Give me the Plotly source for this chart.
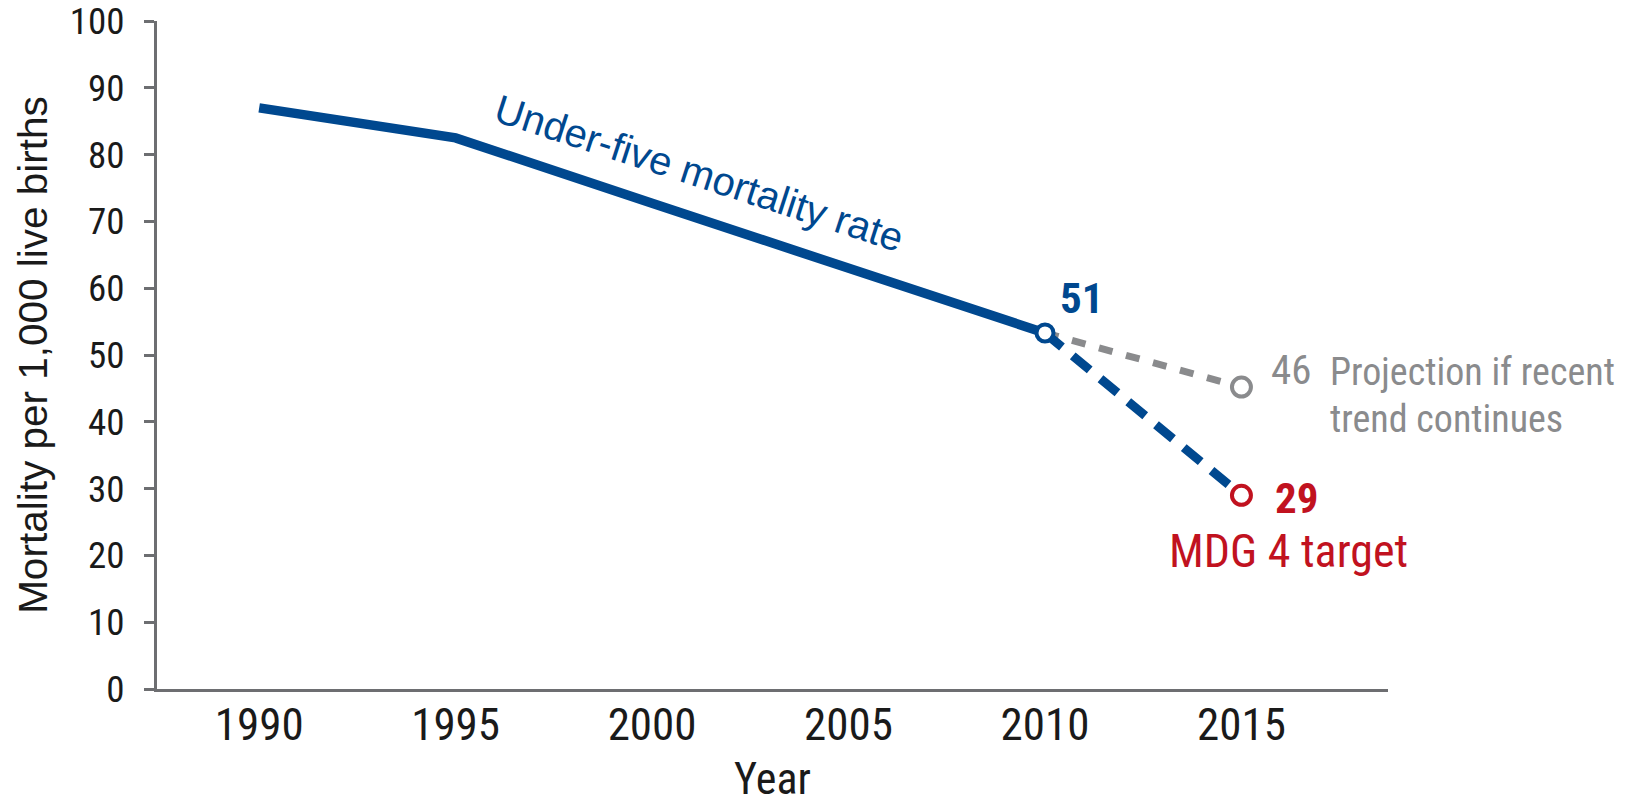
import plotly.graph_objects as go

# Under-five mortality, observed series
years = [1990, 1995, 2000, 2005, 2010]
u5mr = [87, 82.5, 72.7, 63.0, 53.3]

# Projections from 2010 to 2015
proj_years = [2010, 2015]
trend_values = [53.3, 45.2]
target_values = [53.3, 29.0]

# Numbers printed next to the markers
label_2010 = "51"
label_trend = "46"
label_target = "29"

tick_years = [1990, 1995, 2000, 2005, 2010, 2015]

BLUE = "#00488f"
GREY = "#8a8b8d"
RED = "#c1121f"
AXIS = "#6d6e71"
INK = "#1a1a1a"
NARROW = "Roboto Condensed, DejaVu Sans Condensed, Liberation Sans Narrow, sans-serif"
WIDE = "Liberation Sans, Arial, sans-serif"

fig = go.Figure()

# Lines first, markers on top so their white fill hides the joins
fig.add_trace(
    go.Scatter(x=years, y=u5mr, mode="lines", line=dict(color=BLUE, width=9.5))
)
fig.add_trace(
    go.Scatter(
        x=proj_years,
        y=trend_values,
        mode="lines",
        line=dict(color=GREY, width=7, dash="14px,14px"),
    )
)
fig.add_trace(
    go.Scatter(
        x=proj_years,
        y=target_values,
        mode="lines",
        line=dict(color=BLUE, width=9, dash="22px,14px"),
    )
)
for x, y, c, s in [
    (years[-1], u5mr[-1], BLUE, 17),
    (proj_years[-1], trend_values[-1], GREY, 19),
    (proj_years[-1], target_values[-1], RED, 19),
]:
    fig.add_trace(
        go.Scatter(
            x=[x],
            y=[y],
            mode="markers",
            marker=dict(size=s, color="white", line=dict(color=c, width=4)),
        )
    )

# Point labels
fig.add_annotation(
    x=years[-1], y=u5mr[-1], text=f"<b>{label_2010}</b>", showarrow=False,
    xshift=37, yshift=35, font=dict(family=NARROW, size=43, color=BLUE),
)
fig.add_annotation(
    x=proj_years[-1], y=trend_values[-1], text=label_trend, showarrow=False,
    xshift=50, yshift=17, font=dict(family=NARROW, size=41, color=GREY),
)
fig.add_annotation(
    x=proj_years[-1], y=trend_values[-1], text="Projection if recent",
    showarrow=False, xanchor="left", xshift=87, yshift=15,
    font=dict(family=NARROW, size=38, color=GREY),
)
fig.add_annotation(
    x=proj_years[-1], y=trend_values[-1], text="trend continues",
    showarrow=False, xanchor="left", xshift=87, yshift=-32,
    font=dict(family=NARROW, size=38, color=GREY),
)
fig.add_annotation(
    x=proj_years[-1], y=target_values[-1], text=f"<b>{label_target}</b>",
    showarrow=False, xshift=55, yshift=-3,
    font=dict(family=NARROW, size=43, color=RED),
)
fig.add_annotation(
    x=proj_years[-1], y=target_values[-1], text="MDG 4 target",
    showarrow=False, xshift=47, yshift=-56,
    font=dict(family=NARROW, size=46, color=RED),
)
fig.add_annotation(
    x=2001.2, y=77.3, text="Under-five mortality rate", showarrow=False,
    textangle=18, font=dict(family=WIDE, size=40, color=BLUE),
)

fig.update_xaxes(
    range=[1987.40, 2018.73],
    tickvals=tick_years,
    showline=True,
    linecolor=AXIS,
    linewidth=3,
    ticks="",
    ticklen=0,
    showgrid=False,
    zeroline=False,
    automargin=False,
    ticklabelstandoff=-6,
    tickfont=dict(family=NARROW, size=45, color=INK),
    title=dict(text="Year", font=dict(family=NARROW, size=44, color=INK), standoff=20),
)
fig.update_yaxes(
    range=[0, 100],
    dtick=10,
    showline=True,
    linecolor=AXIS,
    linewidth=3,
    ticks="outside",
    ticklen=10,
    tickwidth=2.5,
    tickcolor=AXIS,
    showgrid=False,
    zeroline=False,
    automargin=False,
    ticklabeloverflow="allow",
    ticklabelstandoff=12,
    tickfont=dict(family=NARROW, size=37, color=INK),
    title=dict(
        text="Mortality per 1,000 live births",
        font=dict(family=WIDE, size=40.5, color=INK),
        standoff=10,
    ),
)
fig.update_layout(
    width=1629,
    height=805,
    margin=dict(l=157, r=241, t=21, b=116),
    plot_bgcolor="white",
    paper_bgcolor="white",
    showlegend=False,
)

# the page's default body margin would push the chart 8px down and right
fig.write_html(
    "out.html",
    config={"displayModeBar": False},
    post_script="document.body.style.margin = '0';",
)
